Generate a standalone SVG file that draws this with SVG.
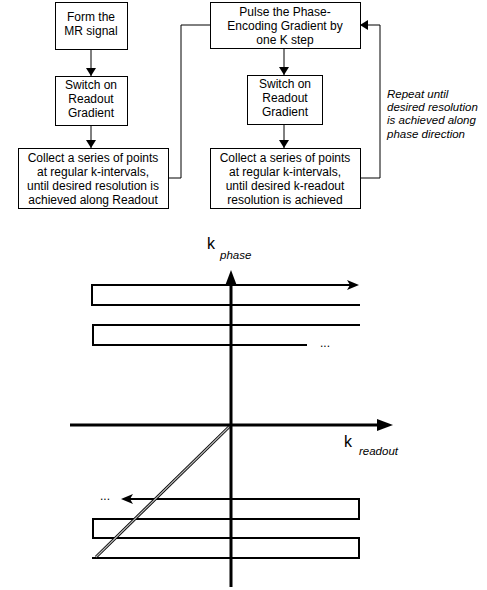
<svg xmlns="http://www.w3.org/2000/svg" width="487" height="590" viewBox="0 0 487 590">
<style>
.box{fill:#fff;stroke:#000;stroke-width:1}
.t{font-family:"Liberation Sans",Arial,sans-serif;font-size:12px;fill:#000;text-anchor:middle}
.it{font-family:"Liberation Sans",Arial,sans-serif;font-size:11.5px;font-style:italic;fill:#000}
.conn{fill:none;stroke:#000;stroke-width:1}
.loop{fill:none;stroke:#000;stroke-width:2}
.axis{fill:none;stroke:#000;stroke-width:3}
</style>
<defs>
<marker id="ah" markerWidth="8" markerHeight="10" refX="8" refY="5" orient="auto" markerUnits="userSpaceOnUse">
<path d="M0,0 L8,5 L0,10 Z" fill="#000"/>
</marker>
</defs>
<rect width="487" height="590" fill="#fff"/>
<g id="connectors">
<line class="conn" x1="91" y1="50" x2="91" y2="76" marker-end="url(#ah)"/>
<line class="conn" x1="91" y1="126" x2="91" y2="148" marker-end="url(#ah)"/>
<polyline class="conn" points="168,178 181,178 181,25 210,25"/>
<line class="conn" x1="284" y1="49" x2="284" y2="75" marker-end="url(#ah)"/>
<line class="conn" x1="284" y1="125" x2="284" y2="148" marker-end="url(#ah)"/>
<polyline class="conn" points="360,178 380,178 380,25 360,25" marker-end="url(#ah)"/>
</g>
<g id="form-mr">
<rect class="box" x="55.5" y="2.5" width="72" height="47"/>
<text class="t" x="91" y="21">Form the</text>
<text class="t" x="91" y="35">MR signal</text>
</g>
<g id="switch-readout-1">
<rect class="box" x="55.5" y="76.5" width="72" height="49"/>
<text class="t" x="91" y="89">Switch on</text>
<text class="t" x="91" y="103">Readout</text>
<text class="t" x="91" y="117">Gradient</text>
</g>
<g id="collect-1">
<rect class="box" x="18.5" y="148.5" width="150" height="60"/>
<text class="t" x="93" y="162">Collect a series of points</text>
<text class="t" x="93" y="176">at regular k-intervals,</text>
<text class="t" x="93" y="190">until desired resolution is</text>
<text class="t" x="93" y="204">achieved along Readout</text>
</g>
<g id="pulse-phase">
<rect class="box" x="210.5" y="2.5" width="150" height="46"/>
<text class="t" x="285" y="16">Pulse the Phase-</text>
<text class="t" x="285" y="30">Encoding Gradient by</text>
<text class="t" x="285" y="44">one K step</text>
</g>
<g id="switch-readout-2">
<rect class="box" x="247.5" y="75.5" width="75" height="49"/>
<text class="t" x="285" y="88">Switch on</text>
<text class="t" x="285" y="102">Readout</text>
<text class="t" x="285" y="116">Gradient</text>
</g>
<g id="collect-2">
<rect class="box" x="210.5" y="148.5" width="150" height="60"/>
<text class="t" x="285" y="162">Collect a series of points</text>
<text class="t" x="285" y="176">at regular k-intervals,</text>
<text class="t" x="285" y="190">until desired k-readout</text>
<text class="t" x="285" y="204">resolution is achieved</text>
</g>
<g id="repeat-note">
<text class="it" x="387" y="98">Repeat until</text>
<text class="it" x="387" y="111">desired resolution</text>
<text class="it" x="387" y="124">is achieved along</text>
<text class="it" x="387" y="138">phase direction</text>
</g>
<g id="kspace">
<path class="loop" d="M352,285 H92 V305 H360"/>
<path d="M359,285 L347,280 L350,285 L347,290 Z" fill="#000"/>
<path class="loop" d="M360,325 H93 V345 H307"/>
<text class="t" x="325" y="347">...</text>
<path class="loop" d="M130,499 H359 V519 H93 V538 H359 V558 H92"/>
<path d="M121,499 L133,494 L130,499 L133,504 Z" fill="#000"/>
<text class="t" x="105" y="500">...</text>
<line x1="96" y1="557" x2="231" y2="425" stroke="#000" stroke-width="3"/>
<line x1="96" y1="557" x2="231" y2="425" stroke="#bbb" stroke-width="1.2"/>
<line class="axis" x1="231" y1="587" x2="231" y2="282"/>
<path d="M231,270 L225,286 L237,286 Z" fill="#000"/>
<line class="axis" x1="70" y1="425" x2="378" y2="425"/>
<path d="M393,425 L377,419 L377,431 Z" fill="#000"/>
<text x="207" y="249" style="font-family:'Liberation Sans',Arial,sans-serif;font-size:16px">k</text>
<text class="it" x="220" y="259">phase</text>
<text x="344" y="447" style="font-family:'Liberation Sans',Arial,sans-serif;font-size:16px">k</text>
<text class="it" x="359" y="455">readout</text>
</g>
</svg>
